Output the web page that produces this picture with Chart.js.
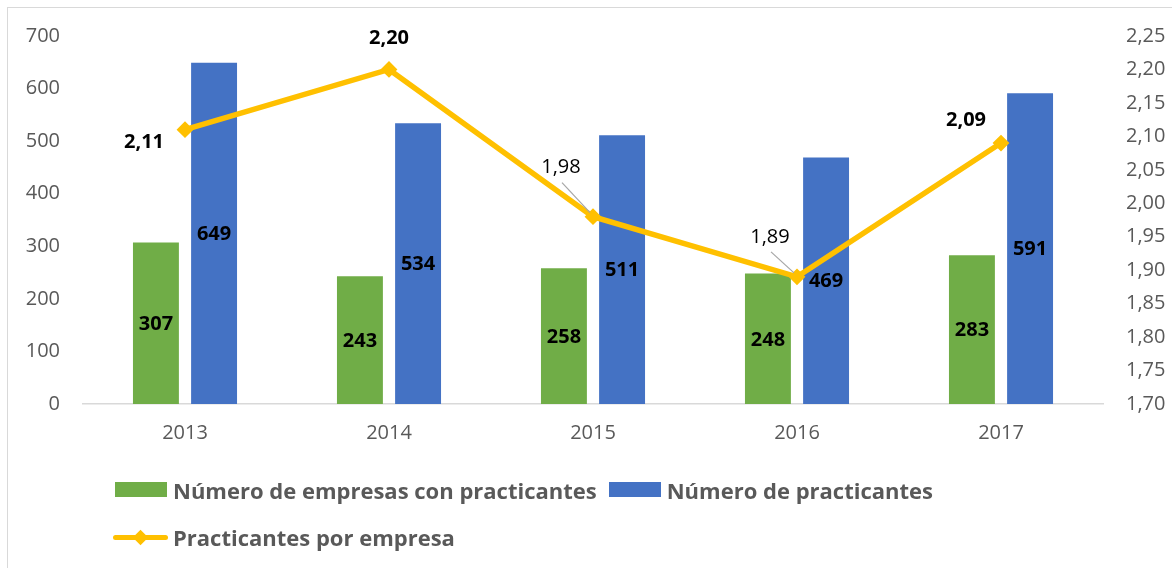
<!DOCTYPE html>
<html>
<head>
<meta charset="utf-8">
<script src="https://cdn.jsdelivr.net/npm/chart.js@4.4.1/dist/chart.umd.min.js"></script>
<style>
  html, body { margin: 0; padding: 0; background: #fff; overflow: hidden; width: 1172px; height: 568px; }
  #frame { position: absolute; left: 7px; top: 7px; width: 1200px; height: 600px; border: 1px solid #d9d9d9; box-sizing: border-box; }
  #chart { position: absolute; left: 0; top: 0; }
  #legend { position: absolute; left: 113px; top: 466px; width: 840px; display: flex; flex-wrap: wrap; column-gap: 10px;
            font: bold 22px 'Open Sans', sans-serif; color: #595959; }
  .item { display: flex; align-items: center; height: 47px; white-space: nowrap; }
  .mk { width: 55px; height: 20px; position: relative; margin-right: 5px; flex: none; }
  .mk .box { position: absolute; left: 2px; top: 2px; width: 52px; height: 15px; }
  .mk .ln { position: absolute; left: 0; top: 8px; width: 55px; height: 5px; border-radius: 3px; }
  .mk .dm { position: absolute; left: 22px; top: 5px; width: 11px; height: 11px; transform: rotate(45deg); }
</style>
</head>
<body>
<div id="frame"></div>
<canvas id="chart" width="1172" height="568"></canvas>
<div id="legend"></div>
<script>
// ── DATA ──
const years        = ['2013', '2014', '2015', '2016', '2017'];
const empresas     = [307, 243, 258, 248, 283];
const practicantes = [649, 534, 511, 469, 591];
const porEmpresa   = [2.11, 2.20, 1.98, 1.89, 2.09];

const leftAxis  = [0, 700, 100];     // min, max, step
const rightAxis = [1.70, 2.25, 0.05];

const GREEN = '#70AD47', BLUE = '#4472C4', GOLD = '#FFC000';
const TXT = '#595959';
const FONT = "'Open Sans', sans-serif";

// label placement for the line values: [dx, dy, bold, leader]
const LINE_LABELS = [
  [-41, 12, true, false],
  [0, -32, true, false],
  [-32, -50, false, true],
  [-27, -41, false, true],
  [-35, -24, true, false],
];

const fmt = v => v.toFixed(2).replace('.', ',');

// ── VALUE LABELS ──
const valueLabels = {
  id: 'valueLabels',
  afterDatasetsDraw(chart) {
    const ctx = chart.ctx;
    ctx.save();
    ctx.textAlign = 'center';
    ctx.textBaseline = 'middle';
    chart.data.datasets.forEach((ds, di) => {
      const meta = chart.getDatasetMeta(di);
      meta.data.forEach((el, i) => {
        const v = ds.data[i];
        if (ds.type === 'bar') {
          ctx.fillStyle = '#000';
          ctx.font = 'bold 20px ' + FONT;
          ctx.fillText(String(v), el.x, (el.y + el.base) / 2 + 1);
        } else {
          const [dx, dy, bold, leader] = LINE_LABELS[i];
          if (leader) {
            ctx.strokeStyle = '#a6a6a6';
            ctx.lineWidth = 1.2;
            ctx.beginPath();
            ctx.moveTo(el.x + dx + 1, el.y + dy + 16);
            ctx.lineTo(el.x - 3, el.y - 4);
            ctx.stroke();
          }
          ctx.fillStyle = '#000';
          ctx.font = (bold ? 'bold ' : '') + '20px ' + FONT;
          ctx.fillText(fmt(v), el.x + dx, el.y + dy + 1);
        }
      });
    });
    ctx.restore();
  }
};

// ── CHART ──
const chart = new Chart(document.getElementById('chart'), {
  data: {
    labels: years,
    datasets: [
      {
        type: 'line', label: 'Practicantes por empresa', data: porEmpresa, yAxisID: 'y1', order: 0,
        borderColor: GOLD, backgroundColor: GOLD, borderWidth: 5.5, tension: 0,
        pointStyle: 'rectRot', pointRadius: 7, pointBorderWidth: 2, pointBorderColor: GOLD, pointBackgroundColor: GOLD,
      },
      {
        type: 'bar', label: 'Número de empresas con practicantes', data: empresas, yAxisID: 'y', order: 1,
        backgroundColor: GREEN, categoryPercentage: 0.57, barPercentage: 0.79,
      },
      {
        type: 'bar', label: 'Número de practicantes', data: practicantes, yAxisID: 'y', order: 1,
        backgroundColor: BLUE, categoryPercentage: 0.57, barPercentage: 0.79,
      },
    ]
  },
  options: {
    responsive: false, animation: false, devicePixelRatio: 1,
    layout: { padding: { top: 36, left: 0, right: 0, bottom: 0 } },
    plugins: { legend: { display: false }, tooltip: { enabled: false } },
    scales: {
      x: {
        grid: { display: false, drawTicks: false },
        border: { display: true, color: '#d9d9d9', width: 1.5 },
        ticks: { color: TXT, font: { family: FONT, size: 20 }, padding: 17 },
        afterFit: s => { s.height = 164; },
      },
      y: {
        position: 'left', min: leftAxis[0], max: leftAxis[1],
        grid: { display: false, drawTicks: false }, border: { display: false },
        ticks: { stepSize: leftAxis[2], color: TXT, font: { family: FONT, size: 20 }, padding: 23 },
        afterFit: s => { s.width = 83; },
      },
      y1: {
        position: 'right', min: rightAxis[0], max: rightAxis[1],
        grid: { display: false, drawTicks: false }, border: { display: false },
        ticks: { stepSize: rightAxis[2], color: TXT, font: { family: FONT, size: 20 }, padding: 23,
                 callback: v => fmt(v) },
        afterFit: s => { s.width = 69; },
      },
    }
  },
  plugins: [valueLabels]
});

// ── HTML LEGEND ──
const legendOrder = [1, 2, 0];
document.getElementById('legend').innerHTML = legendOrder.map(i => {
  const ds = chart.data.datasets[i];
  const mk = ds.type === 'bar'
    ? `<div class="box" style="background:${ds.backgroundColor}"></div>`
    : `<div class="ln" style="background:${ds.borderColor}"></div><div class="dm" style="background:${ds.borderColor}"></div>`;
  return `<div class="item"><div class="mk">${mk}</div><span>${ds.label}</span></div>`;
}).join('');
</script>
</body>
</html>
